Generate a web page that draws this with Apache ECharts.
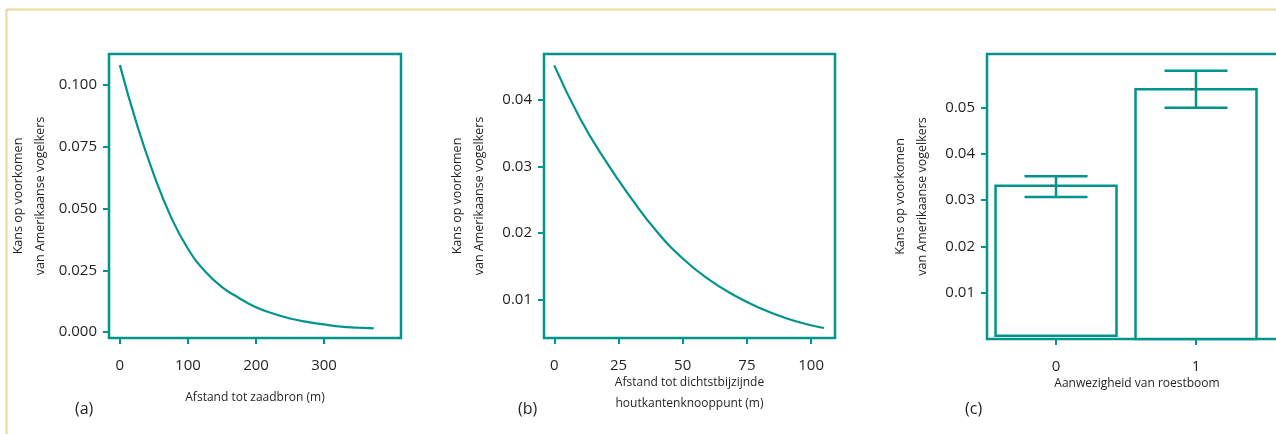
<!DOCTYPE html>
<html>
<head>
<meta charset="utf-8">
<script src="https://cdn.jsdelivr.net/npm/echarts@6/dist/echarts.min.js"></script>
<style>
  html, body { margin: 0; padding: 0; background: #fff; }
  #main { width: 1276px; height: 434px; }
</style>
</head>
<body>
<div id="main"></div>
<script>
// (a) afstand tot zaadbron
var distSeed = [0, 25, 50, 75, 100, 125, 150, 175, 200, 225, 250, 275, 300, 325, 350, 373];
var probSeed = [0.108, 0.084, 0.0636, 0.0466, 0.0337, 0.0246, 0.0182, 0.0138, 0.0100, 0.0075, 0.0055, 0.0041, 0.0031, 0.0022, 0.0018, 0.0015];
var ticksA = [0, 100, 200, 300];
var yTicksA = [0, 0.025, 0.05, 0.075, 0.1];

// (b) afstand tot houtkantenknooppunt
var distNode = [0, 10, 20, 30, 40, 50, 60, 70, 80, 90, 100, 105];
var probNode = [0.0451, 0.0372, 0.0308, 0.0252, 0.0202, 0.0162, 0.0131, 0.0107, 0.0088, 0.0073, 0.0062, 0.0058];
var ticksB = [0, 25, 50, 75, 100];
var yTicksB = [0.01, 0.02, 0.03, 0.04];

// (c) roestboom aanwezig
var roestCats = [0, 1];
var roestMean = [0.0331, 0.054];
var roestLow = [0.0307, 0.050];
var roestHigh = [0.0352, 0.058];
var roestBase = [0.0007, 0];
var yTicksC = [0.01, 0.02, 0.03, 0.04, 0.05];

var teal = '#00948d';
var ink = '#231f20';
var yName = 'Kans op voorkomen\nvan Amerikaanse vogelkers';

function xAx(idx, min, max, ticks, name, gap) {
  return {
    type: 'value', gridIndex: idx, min: min, max: max,
    name: name, nameLocation: 'middle', nameGap: gap, nameMoveOverlap: false,
    nameTextStyle: { fontSize: 12, lineHeight: 21, color: ink },
    axisLine: { show: false, onZero: false },
    axisTick: { show: true, length: 6, customValues: ticks, lineStyle: { color: teal, width: 2 } },
    axisLabel: { customValues: ticks, margin: 20, fontSize: 15, color: ink },
    splitLine: { show: false }
  };
}
function yAx(idx, min, max, ticks, digits, gap) {
  return {
    type: 'value', gridIndex: idx, min: min, max: max,
    name: yName, nameLocation: 'middle', nameGap: gap, nameMoveOverlap: false,
    nameTextStyle: { fontSize: 12.5, lineHeight: 22, color: ink },
    axisLine: { show: false, onZero: false },
    axisTick: { show: true, length: 6, customValues: ticks, lineStyle: { color: teal, width: 2 } },
    axisLabel: { customValues: ticks, margin: 12, fontSize: 15, color: ink,
      formatter: function (v) { return v.toFixed(digits); } },
    splitLine: { show: false }
  };
}

var barData = roestCats.map(function (c, i) { return [c, roestMean[i], roestBase[i]]; });
var errData = roestCats.map(function (c, i) { return [c, roestLow[i], roestHigh[i]]; });
var dotData = roestCats.map(function (c, i) { return [c - 0.03, roestMean[i]]; });

var gridBase = { show: true, borderColor: teal, borderWidth: 2.5, backgroundColor: 'transparent', outerBoundsMode: 'none', containLabel: false };

var chart = echarts.init(document.getElementById('main'));
chart.setOption({
  animation: false,
  textStyle: { fontFamily: 'Open Sans' },
  title: [
    { text: '(a)', left: 75, top: 401, padding: 0, textStyle: { fontSize: 16, fontWeight: 'normal', color: ink } },
    { text: '(b)', left: 518, top: 401, padding: 0, textStyle: { fontSize: 16, fontWeight: 'normal', color: ink } },
    { text: '(c)', left: 965, top: 401, padding: 0, textStyle: { fontSize: 16, fontWeight: 'normal', color: ink } }
  ],
  graphic: [
    { type: 'line', shape: { x1: 6, y1: 9.5, x2: 1276, y2: 9.5 }, style: { stroke: '#e4da9c', lineWidth: 2 } },
    { type: 'line', shape: { x1: 6.5, y1: 9, x2: 6.5, y2: 434 }, style: { stroke: '#e4da9c', lineWidth: 2 } }
  ],
  grid: [
    Object.assign({ left: 109, top: 54, width: 292, height: 284 }, gridBase),
    Object.assign({ left: 544, top: 54, width: 291, height: 284 }, gridBase),
    Object.assign({ left: 987, top: 54, width: 300, height: 285 }, gridBase)
  ],
  xAxis: [
    xAx(0, -16, 413, ticksA, 'Afstand tot zaadbron (m)', 49),
    xAx(1, -4, 109.3, ticksB, 'Afstand tot dichtstbijzijnde\nhoutkantenknooppunt (m)', 34),
    xAx(2, -0.493, 1.65, roestCats, 'Aanwezigheid van roestboom', 34)
  ],
  yAxis: [
    yAx(0, -0.0024, 0.1125, yTicksA, 3, 58),
    yAx(1, 0.0043, 0.0468, yTicksB, 2, 54),
    yAx(2, 0, 0.0616, yTicksC, 2, 54)
  ],
  series: [
    {
      type: 'line', xAxisIndex: 0, yAxisIndex: 0, smooth: true, showSymbol: false,
      lineStyle: { color: teal, width: 2.2 },
      data: distSeed.map(function (d, i) { return [d, probSeed[i]]; })
    },
    {
      type: 'line', xAxisIndex: 1, yAxisIndex: 1, smooth: true, showSymbol: false,
      lineStyle: { color: teal, width: 2.2 },
      data: distNode.map(function (d, i) { return [d, probNode[i]]; })
    },
    {
      type: 'custom', xAxisIndex: 2, yAxisIndex: 2, clip: false,
      data: barData,
      renderItem: function (params, api) {
        var x = api.value(0);
        var p1 = api.coord([x - 0.432, api.value(1)]);
        var p2 = api.coord([x + 0.432, api.value(2)]);
        return {
          type: 'rect',
          shape: { x: p1[0], y: p1[1], width: p2[0] - p1[0], height: p2[1] - p1[1] },
          style: { fill: '#fff', stroke: teal, lineWidth: 2.5 }
        };
      }
    },
    {
      type: 'custom', xAxisIndex: 2, yAxisIndex: 2, clip: false,
      data: errData,
      renderItem: function (params, api) {
        var x = api.value(0);
        var lo = api.coord([x, api.value(1)]);
        var hi = api.coord([x, api.value(2)]);
        var hw = api.size([0.225, 0])[0];
        var st = { stroke: teal, lineWidth: 2.5 };
        return {
          type: 'group',
          children: [
            { type: 'line', shape: { x1: lo[0], y1: lo[1], x2: hi[0], y2: hi[1] }, style: st },
            { type: 'line', shape: { x1: lo[0] - hw, y1: lo[1], x2: lo[0] + hw, y2: lo[1] }, style: st },
            { type: 'line', shape: { x1: hi[0] - hw, y1: hi[1], x2: hi[0] + hw, y2: hi[1] }, style: st }
          ]
        };
      }
    },
    {
      type: 'scatter', xAxisIndex: 2, yAxisIndex: 2, symbolSize: 2.5,
      itemStyle: { color: '#555' }, data: dotData
    }
  ]
});
</script>
</body>
</html>
